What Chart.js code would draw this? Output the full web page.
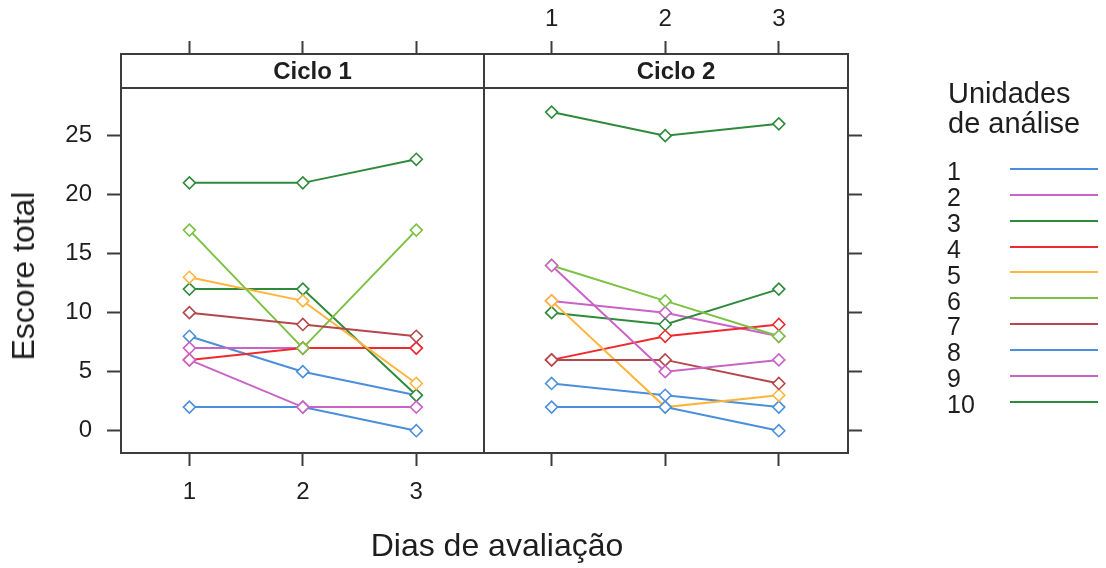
<!DOCTYPE html>
<html>
<head>
<meta charset="utf-8">
<script src="https://cdn.jsdelivr.net/npm/chart.js@4.4.1/dist/chart.umd.min.js"></script>
<style>
  html, body { margin: 0; padding: 0; background: #fff; }
  #wrap { position: relative; width: 1106px; height: 568px; overflow: hidden;
          font-family: "Liberation Sans", Arial, sans-serif; color: #1e1e1e; }
  #wrap canvas { position: absolute; left: 0; top: 0; }
  .txt { position: absolute; white-space: nowrap; }
</style>
</head>
<body>
<div id="wrap">
  <canvas id="ciclo1" width="1106" height="568"></canvas>
  <canvas id="ciclo2" width="1106" height="568"></canvas>
  <div class="txt" id="xTitle"></div>
  <div class="txt" id="yTitle"></div>
  <div id="legend"></div>
</div>
<script>
// ---- data ----------------------------------------------------------------
const days = [1, 2, 3];                       // Dias de avaliação
const yTicks = [0, 5, 10, 15, 20, 25];
const unidades = ['1', '2', '3', '4', '5', '6', '7', '8', '9', '10'];
const panelNames = ['Ciclo 1', 'Ciclo 2'];

// escore total per unidade (rows) and dia (columns)
const ciclo1Scores = [
  [8, 5, 3],
  [7, 7, 7],
  [12, 12, 3],
  [6, 7, 7],
  [13, 11, 4],
  [17, 7, 17],
  [10, 9, 8],
  [2, 2, 0],
  [6, 2, 2],
  [21, 21, 23]
];
const ciclo2Scores = [
  [4, 3, 2],
  [11, 10, 8],
  [10, 9, 12],
  [6, 8, 9],
  [11, 2, 3],
  [14, 11, 8],
  [6, 6, 4],
  [2, 2, 0],
  [14, 5, 6],
  [27, 25, 26]
];

const unitColors = ['#4a8fdb', '#c963c6', '#2f8a3b', '#ee2a2e', '#ffb53c',
                    '#7cc143', '#b3474b', '#4a8fdb', '#c963c6', '#2f8a3b'];

const xTitleText = 'Dias de avaliação';
const yTitleText = 'Escore total';
const legendTitle = ['Unidades', 'de análise'];

// ---- styling ---------------------------------------------------------------
const FONT = '"Liberation Sans", Arial, sans-serif';
const AXIS_COLOR = '#3c3c3c';
const TEXT_COLOR = '#1e1e1e';
const STRIP_H = 34;
const W = 1106, H = 568;

Chart.defaults.font.family = FONT;
Chart.defaults.color = TEXT_COLOR;

// panel frame + strip with the panel name
const panelFrame = {
  id: 'panelFrame',
  afterDraw(chart, args, opts) {
    const { ctx, chartArea: a } = chart;
    ctx.save();
    ctx.fillStyle = '#ffffff';
    ctx.fillRect(a.left, a.top, a.right - a.left, STRIP_H);
    ctx.strokeStyle = AXIS_COLOR;
    ctx.lineWidth = 2;
    ctx.strokeRect(a.left, a.top, a.right - a.left, a.bottom - a.top);
    ctx.beginPath();
    ctx.moveTo(a.left, a.top + STRIP_H);
    ctx.lineTo(a.right, a.top + STRIP_H);
    ctx.stroke();
    ctx.fillStyle = TEXT_COLOR;
    ctx.font = 'bold 24px ' + FONT;
    ctx.textAlign = 'center';
    ctx.textBaseline = 'middle';
    ctx.fillText(opts.title, (a.left + a.right) / 2 + 10, a.top + STRIP_H / 2 + 1);
    ctx.restore();
  }
};

function xScale(position, min, max, showLabels, size, pad) {
  return {
    type: 'linear',
    position: position,
    min: min,
    max: max,
    afterBuildTicks: s => { s.ticks = days.map(v => ({ value: v })); },
    afterFit: s => { s.height = size; },
    ticks: {
      display: showLabels,
      font: { size: 24 },
      color: TEXT_COLOR,
      padding: pad,
      maxRotation: 0,
      minRotation: 0,
      autoSkip: false,
      callback: v => String(v)
    },
    grid: { drawOnChartArea: false, drawTicks: true, tickLength: 13,
            tickColor: AXIS_COLOR, tickWidth: 2 },
    border: { display: true, color: AXIS_COLOR, width: 2 }
  };
}

function yScale(position, showLabels, size) {
  return {
    type: 'linear',
    position: position,
    min: -1.89,
    max: 31.92,
    afterBuildTicks: s => { s.ticks = yTicks.map(v => ({ value: v })); },
    afterFit: s => { s.width = size; },
    ticks: {
      display: showLabels,
      font: { size: 24 },
      color: TEXT_COLOR,
      padding: 15,
      autoSkip: false,
      callback: v => String(v)
    },
    grid: { drawOnChartArea: false, drawTicks: true, tickLength: 14,
            tickColor: AXIS_COLOR, tickWidth: 2 },
    border: { display: true, color: AXIS_COLOR, width: 2 }
  };
}

// later unidades are painted over earlier ones
function datasetsFor(scores) {
  return unidades.map((u, i) => ({
    label: u,
    order: unidades.length - i,
    data: days.map((d, j) => ({ x: d, y: scores[i][j] })),
    borderColor: unitColors[i],
    backgroundColor: '#ffffff',
    borderWidth: 2,
    tension: 0,
    pointStyle: 'rectRot',
    pointRadius: 6,
    pointBorderWidth: 1.6,
    pointBorderColor: unitColors[i],
    pointBackgroundColor: '#ffffff'
  }));
}

const baseOptions = {
  responsive: false,
  animation: false,
  events: [],
  plugins: { legend: { display: false }, tooltip: { enabled: false } }
};

// Ciclo 1: labels on left and bottom
new Chart(document.getElementById('ciclo1'), {
  type: 'line',
  data: { datasets: datasetsFor(ciclo1Scores) },
  options: Object.assign({}, baseOptions, {
    layout: { padding: { left: 0, right: W - 484, top: 0, bottom: 0 } },
    scales: {
      x: xScale('bottom', 0.397, 3.597, true, H - 453, 12),
      xTop: xScale('top', 0.397, 3.597, false, 54, 7),
      y: yScale('left', true, 121)
    },
    plugins: Object.assign({}, baseOptions.plugins, { panelFrame: { title: panelNames[0] } })
  }),
  plugins: [panelFrame]
});

// Ciclo 2: labels on top, tick marks on right and bottom
new Chart(document.getElementById('ciclo2'), {
  type: 'line',
  data: { datasets: datasetsFor(ciclo2Scores) },
  options: Object.assign({}, baseOptions, {
    layout: { padding: { left: 484, right: 0, top: 0, bottom: 0 } },
    scales: {
      x: xScale('bottom', 0.405, 3.609, false, H - 453, 12),
      xTop: xScale('top', 0.405, 3.609, true, 54, 7),
      y: yScale('right', false, W - 848)
    },
    plugins: Object.assign({}, baseOptions.plugins, { panelFrame: { title: panelNames[1] } })
  }),
  plugins: [panelFrame]
});

// axis titles
const xt = document.getElementById('xTitle');
xt.textContent = xTitleText;
Object.assign(xt.style, { left: '497px', top: '529px', fontSize: '32px', lineHeight: '32px',
                          transform: 'translateX(-50%)' });
const yt = document.getElementById('yTitle');
yt.textContent = yTitleText;
Object.assign(yt.style, { left: '23px', top: '276px', fontSize: '32px', lineHeight: '32px',
                          transform: 'translate(-50%, -50%) rotate(-90deg)' });

// legend
const legend = document.getElementById('legend');
legendTitle.forEach((t, k) => {
  const d = document.createElement('div');
  d.className = 'txt';
  d.textContent = t;
  Object.assign(d.style, { left: '948px', top: (78 + k * 30) + 'px', fontSize: '29px', lineHeight: '30px' });
  legend.appendChild(d);
});
unidades.forEach((u, i) => {
  const yLine = 169 + i * 25.85;
  const n = document.createElement('div');
  n.className = 'txt';
  n.textContent = u;
  Object.assign(n.style, { left: '947px', top: (yLine - 9.7) + 'px', fontSize: '25px', lineHeight: '25px' });
  legend.appendChild(n);
  const l = document.createElement('div');
  Object.assign(l.style, { position: 'absolute', left: '1010px', top: (yLine - 1) + 'px',
                           width: '88px', height: '2px', background: unitColors[i] });
  legend.appendChild(l);
});
</script>
</body>
</html>
